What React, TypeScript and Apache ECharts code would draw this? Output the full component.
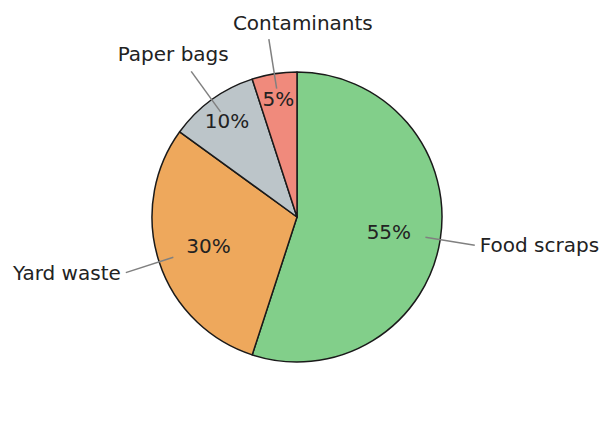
import { useEffect, useRef } from "react";
import * as echarts from "echarts";

const categories = ["Food scraps", "Yard waste", "Paper bags", "Contaminants"];
const shares = [55, 30, 10, 5];
const colors = ["#82cf8a", "#eea85c", "#bcc5c9", "#f08a7c"];

// small slices get their percent further out, like the original
const smallSlice = 20;

// where the top labels sit relative to the end of their leader line
const topLabelShift: Record<number, [number, number]> = {
  2: [-18, -17],
  3: [34, -16],
};

const center: [number, number] = [297, 217];
const textColor = "#222222";
const font = "DejaVu Sans";

function chartOptions(): echarts.EChartsOption {
  const overlay = (show: (v: number) => boolean) =>
    shares.map((v, i) => ({
      value: v,
      name: categories[i],
      label: { show: show(v) },
    }));

  const transparent = { color: "rgba(0,0,0,0)", borderWidth: 0 };
  const pctLabel = {
    position: "inside" as const,
    formatter: (p: any) => `${Math.round(p.percent)}%`,
    color: textColor,
    fontFamily: font,
    fontSize: 20,
  };

  return {
    animation: false,
    backgroundColor: "#ffffff",
    series: [
      {
        type: "pie",
        z: 1,
        center,
        radius: 145,
        startAngle: 90,
        clockwise: true,
        silent: true,
        label: { show: false },
        labelLine: { show: false },
        itemStyle: { borderColor: "#1a1a1a", borderWidth: 1.5 },
        data: shares.map((v, i) => ({
          value: v,
          name: categories[i],
          itemStyle: { color: colors[i] },
        })),
      },
      {
        type: "pie",
        z: 3,
        center,
        radius: [50, 130],
        startAngle: 90,
        silent: true,
        itemStyle: transparent,
        label: pctLabel,
        labelLine: { show: false },
        data: overlay((v) => v >= smallSlice),
      },
      {
        type: "pie",
        z: 3,
        center,
        radius: [102, 130],
        startAngle: 90,
        silent: true,
        itemStyle: transparent,
        label: pctLabel,
        labelLine: { show: false },
        data: overlay((v) => v < smallSlice),
      },
      {
        type: "pie",
        z: 4,
        center,
        radius: 130,
        startAngle: 90,
        silent: true,
        avoidLabelOverlap: false,
        itemStyle: transparent,
        label: {
          position: "outside",
          formatter: "{b}",
          color: textColor,
          fontFamily: font,
          fontSize: 20,
        },
        labelLine: {
          show: true,
          length: 50,
          length2: 0,
          smooth: false,
          lineStyle: { color: "#808080", width: 1.5 },
        },
        labelLayout: (params: any) => {
          const pts = params.labelLinePoints;
          const shift = topLabelShift[params.dataIndex];
          if (!pts || !shift) return {};
          const end = pts[pts.length - 1];
          return {
            x: end[0] + shift[0],
            y: end[1] + shift[1],
            align: "center",
            verticalAlign: "middle",
            labelLinePoints: pts,
          };
        },
        data: overlay(() => true),
      },
    ],
  };
}

export default function App() {
  const nodeRef = useRef<HTMLDivElement | null>(null);

  useEffect(() => {
    if (!nodeRef.current) return;
    const chart = echarts.init(nodeRef.current, undefined, { renderer: "svg" });
    chart.setOption(chartOptions());
    return () => chart.dispose();
  }, []);

  return (
    <div
      ref={nodeRef}
      style={{ position: "absolute", left: 0, top: 0, width: 612, height: 439 }}
    />
  );
}
